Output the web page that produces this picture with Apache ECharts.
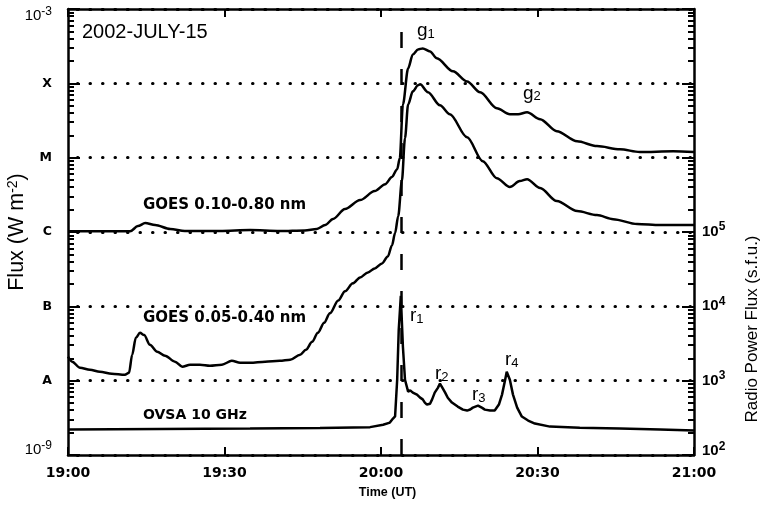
<!DOCTYPE html>
<html>
<head>
<meta charset="utf-8">
<title>2002-JULY-15 GOES / OVSA</title>
<script src="https://cdn.jsdelivr.net/npm/echarts@6/dist/echarts.min.js"></script>
<style>
  body { margin: 0; padding: 0; background: #fff; }
  #main { width: 761px; height: 505px; }
</style>
</head>
<body>
<div id="main"></div>
<script>
// time = minutes after 19:00 UT
var tickLabels = ['19:00', '19:30', '20:00', '20:30', '21:00'];
var flareClass = { '-8': 'A', '-7': 'B', '-6': 'C', '-5': 'M', '-4': 'X' };
var radioLabelMax = 1e5;
var markTime = 63.8;

// GOES 0.10-0.80 nm (W m-2)
var goesLongT = [0, 10, 11.9, 13.4, 14.8, 16.7, 19.6, 22.4, 29.1, 34.9,
  40.6, 45.4, 47.7, 49.3, 50.8, 53.1, 56, 58.8, 60.8, 62.1,
  63.1, 63.6, 64.2, 65.2, 66.1, 67.1, 68.0, 69.4, 70.7, 73.8,
  76.5, 79.0, 82.2, 84.7, 86.3, 88.0, 90.5, 93.7, 97.6, 101.4,
  105.8, 109.6, 116, 120];
var goesLongV = [1.02e-6, 1.02e-6, 1.02e-6, 1.2e-6, 1.32e-6, 1.24e-6, 1.1e-6, 1.03e-6, 1.03e-6, 1.06e-6,
  1.03e-6, 1.05e-6, 1.1e-6, 1.24e-6, 1.5e-6, 2.04e-6, 2.69e-6, 3.55e-6, 4.4e-6, 5.5e-6,
  7.0e-6, 9.8e-6, 5.2e-5, 1.59e-4, 2.45e-4, 2.86e-4, 2.95e-4, 2.69e-4, 2.17e-4, 1.45e-4,
  1.06e-4, 7.57e-5, 4.62e-5, 3.84e-5, 3.84e-5, 4.08e-5, 3.29e-5, 2.27e-5, 1.66e-5, 1.43e-5,
  1.30e-5, 1.19e-5, 1.22e-5, 1.19e-5];

// GOES 0.05-0.40 nm (W m-2)
var goesShortT = [0, 0.8, 2.3, 4.2, 6.1, 8.4, 10.9, 11.7, 12.3, 13.0,
  13.8, 14.6, 15.7, 17.1, 18.6, 20.5, 21.9, 23.4, 25.3, 27.2,
  29.5, 31.4, 33.0, 34.9, 37.8, 40.6, 42.6, 44.5, 45.6, 46.8,
  47.9, 49.1, 50.2, 51.8, 53.1, 54.6, 56.0, 57.5, 58.8, 60.2,
  61.3, 62.1, 62.7, 63.3, 64.0, 64.6, 65.2, 66.1, 67.1, 67.5,
  69.0, 71.3, 73.2, 76.5, 79.5, 82.2, 84.7, 86.6, 88.0, 90.5,
  93.7, 97.6, 101.4, 104.5, 109.1, 113.5, 120];
var goesShortV = [2.1e-8, 1.8e-8, 1.49e-8, 1.4e-8, 1.32e-8, 1.24e-8, 1.2e-8, 1.28e-8, 2.23e-8, 3.78e-8,
  4.4e-8, 4.1e-8, 3.04e-8, 2.45e-8, 2.17e-8, 1.8e-8, 1.54e-8, 1.64e-8, 1.64e-8, 1.59e-8,
  1.64e-8, 1.85e-8, 1.74e-8, 1.74e-8, 1.8e-8, 1.85e-8, 1.91e-8, 2.23e-8, 2.6e-8, 3.33e-8,
  4.4e-8, 6.0e-8, 8.05e-8, 1.2e-7, 1.59e-7, 2.04e-7, 2.45e-7, 2.86e-7, 3.24e-7, 3.78e-7,
  4.68e-7, 6.6e-7, 9.7e-7, 1.64e-6, 4.83e-6, 1.83e-5, 5.2e-5, 7.8e-5, 9.4e-5, 9.7e-5,
  7.6e-5, 5.07e-5, 3.84e-5, 1.88e-5, 8.97e-6, 5.3e-6, 4.02e-6, 4.84e-6, 5.14e-6, 3.9e-6,
  2.61e-6, 1.91e-6, 1.69e-6, 1.49e-6, 1.28e-6, 1.24e-6, 1.24e-6];

// OVSA 10 GHz (s.f.u.)
var radioT = [0, 17.6, 34.9, 48.3, 57.9, 60.4, 61.7, 62.3, 62.7, 63.1,
  63.4, 63.8, 64.2, 64.6, 65.2, 65.6, 66.1, 66.9, 67.5, 68.0,
  68.4, 68.8, 69.4, 69.8, 70.3, 70.9, 71.3, 71.7, 72.3, 72.8,
  73.6, 74.7, 75.7, 76.5, 77.1, 77.6, 78.6, 79.4, 79.9, 80.9,
  81.8, 82.6, 83.2, 83.8, 84.1, 84.7, 85.3, 86.1, 87.0, 88.2,
  89.5, 92.4, 98.1, 105.8, 113.5, 120];
var radioV = [220, 224, 227, 230, 237, 255, 273, 309, 330, 1030,
  4840, 13800, 2860, 1030, 711, 740, 690, 649, 591, 560,
  507, 477, 490, 560, 690, 800, 912, 820, 690, 590,
  507, 448, 408, 396, 410, 434, 462, 430, 408, 396,
  396, 477, 649, 1030, 1320, 1030, 649, 434, 329, 291,
  265, 241, 233, 227, 220, 213];

var black = '#000';

function zip(t, v) {
  return t.map(function (x, i) { return [x, v[i]]; });
}

var myChart = echarts.init(document.getElementById('main'));

var lineSeries = function (name, data, axis, smooth) {
  return {
    name: name,
    type: 'line',
    yAxisIndex: axis,
    data: data,
    showSymbol: false,
    smooth: smooth,
    smoothMonotone: 'x',
    silent: true,
    lineStyle: { color: black, width: 2.5 },
    z: 3
  };
};

var radio = lineSeries('OVSA 10 GHz', zip(radioT, radioV), 1, false);
radio.markLine = {
  silent: true,
  symbol: 'none',
  label: { show: false },
  lineStyle: { color: black, width: 2.5, type: [16, 21] },
  data: [{ xAxis: markTime }]
};

var xAxisBase = function (pos, labels) {
  return {
    type: 'value', min: 0, max: 120, interval: 30, position: pos,
    axisLine: { show: true, onZero: false, lineStyle: { color: black, width: 2.5 } },
    axisTick: { show: true, inside: true, length: 8, lineStyle: { color: black, width: 2 } },
    axisLabel: labels,
    splitLine: { show: false }
  };
};

var logTicks = {
  axisLine: { show: true, onZero: false, lineStyle: { color: black, width: 2.5 } },
  axisTick: { show: true, inside: true, length: 12, lineStyle: { color: black, width: 2 } },
  minorTick: { show: true, splitNumber: 9, length: 6, lineStyle: { color: black, width: 2 } }
};

var option = {
  animation: false,
  grid: { left: 68, right: 67, top: 9, bottom: 50 },
  xAxis: [
    xAxisBase('bottom', {
      color: black, fontFamily: 'DejaVu Sans', fontWeight: 'bold', fontSize: 14, margin: 11,
      formatter: function (v) { return tickLabels[Math.round(v / 30)]; }
    }),
    xAxisBase('top', { show: false })
  ],
  yAxis: [Object.assign({
    type: 'log', logBase: 10, min: 1e-9, max: 1e-3, position: 'left',
    splitLine: {
      show: true,
      lineStyle: { color: black, width: 3, type: [0.5, 12], cap: 'round', dashOffset: 3 }
    },
    axisLabel: {
      margin: 16,
      formatter: function (v) {
        var p = Math.round(Math.log10(v));
        if (flareClass[p]) return '{c|' + flareClass[p] + '}';
        if (p === -3) return '{bt|10}{et|' + p + '}';
        return '{bb|10}{eb|' + p + '}';
      },
      rich: {
        bt: { fontFamily: 'Liberation Sans', fontSize: 15, color: black, lineHeight: 28, verticalAlign: 'bottom' },
        et: { fontFamily: 'Liberation Sans', fontSize: 12, color: black, lineHeight: 12, verticalAlign: 'bottom', padding: [0, 0, 5, 0] },
        bb: { fontFamily: 'Liberation Sans', fontSize: 15, color: black, lineHeight: 31, verticalAlign: 'top', padding: [2.5, 0, 0, 0] },
        eb: { fontFamily: 'Liberation Sans', fontSize: 12, color: black, lineHeight: 12, verticalAlign: 'top' },
        c: { fontFamily: 'DejaVu Sans', fontWeight: 'bold', fontSize: 12.5, color: black }
      }
    }
  }, logTicks), Object.assign({
    type: 'log', logBase: 10, min: 1e2, max: 1e8, position: 'right',
    splitLine: { show: false },
    axisLabel: {
      margin: 8,
      formatter: function (v) {
        if (v > radioLabelMax * 1.01) return '';
        var p = Math.round(Math.log10(v));
        if (p === 2) return '{bb|10}{eb|' + p + '}';
        return '{b|10}{e|' + p + '}';
      },
      rich: {
        b: { fontFamily: 'Liberation Sans', fontWeight: 'bold', fontSize: 15, color: black, lineHeight: 22 },
        e: { fontFamily: 'Liberation Sans', fontWeight: 'bold', fontSize: 12, color: black, lineHeight: 12, verticalAlign: 'top' },
        bb: { fontFamily: 'Liberation Sans', fontWeight: 'bold', fontSize: 15, color: black, lineHeight: 29, verticalAlign: 'top', padding: [2.5, 0, 0, 0] },
        eb: { fontFamily: 'Liberation Sans', fontWeight: 'bold', fontSize: 12, color: black, lineHeight: 12, verticalAlign: 'top' }
      }
    }
  }, logTicks)],
  series: [
    lineSeries('GOES 0.10-0.80 nm', zip(goesLongT, goesLongV), 0, 0.3),
    lineSeries('GOES 0.05-0.40 nm', zip(goesShortT, goesShortV), 0, 0.3),
    radio
  ],
  graphic: [
    { type: 'text', x: 82, y: 32, style: { text: '2002-JULY-15', font: '20px "Liberation Sans"', fill: black, verticalAlign: 'middle' } },
    { type: 'text', x: 143, y: 205.5, style: { text: 'GOES 0.10-0.80 nm', font: 'bold 15px "DejaVu Sans"', fill: black, verticalAlign: 'middle' } },
    { type: 'text', x: 143, y: 318.5, style: { text: 'GOES 0.05-0.40 nm', font: 'bold 15px "DejaVu Sans"', fill: black, verticalAlign: 'middle' } },
    { type: 'text', x: 143, y: 415, style: { text: 'OVSA 10 GHz', font: 'bold 14px "DejaVu Sans"', fill: black, verticalAlign: 'middle' } },
    { type: 'text', x: 387.5, y: 493, style: { text: 'Time (UT)', font: 'bold 12.5px "Liberation Sans"', fill: black, align: 'center', verticalAlign: 'middle' } },
    {
      type: 'text', x: 17, y: 232, rotation: Math.PI / 2,
      style: {
        text: 'Flux (W m{s|-2})', font: '21.5px "Liberation Sans"', fill: black, align: 'center', verticalAlign: 'middle',
        rich: { s: { fontFamily: 'Liberation Sans', fontSize: 14, lineHeight: 12, verticalAlign: 'top', fill: black } }
      }
    },
    { type: 'text', x: 752, y: 329, rotation: Math.PI / 2, style: { text: 'Radio Power Flux (s.f.u.)', font: '17px "Liberation Sans"', fill: black, align: 'center', verticalAlign: 'middle' } },
    {
      type: 'text', x: 417, y: 30.5,
      style: { text: '{g|g}{n|1}', verticalAlign: 'middle',
        rich: { g: { fontFamily: 'Liberation Sans', fontSize: 19, lineHeight: 20, fill: black }, n: { fontFamily: 'Liberation Sans', fontSize: 13, lineHeight: 14, verticalAlign: 'bottom', fill: black } } }
    },
    {
      type: 'text', x: 523, y: 93.4,
      style: { text: '{g|g}{n|2}', verticalAlign: 'middle',
        rich: { g: { fontFamily: 'Liberation Sans', fontSize: 19, lineHeight: 20, fill: black }, n: { fontFamily: 'Liberation Sans', fontSize: 13, lineHeight: 14, verticalAlign: 'bottom', fill: black } } }
    },
    {
      type: 'text', x: 410, y: 315.5,
      style: { text: '{g|r}{n|1}', verticalAlign: 'middle',
        rich: { g: { fontFamily: 'Liberation Sans', fontSize: 19, lineHeight: 20, fill: black }, n: { fontFamily: 'Liberation Sans', fontSize: 13, lineHeight: 14, verticalAlign: 'bottom', fill: black } } }
    },
    {
      type: 'text', x: 435, y: 373.5,
      style: { text: '{g|r}{n|2}', verticalAlign: 'middle',
        rich: { g: { fontFamily: 'Liberation Sans', fontSize: 19, lineHeight: 20, fill: black }, n: { fontFamily: 'Liberation Sans', fontSize: 13, lineHeight: 14, verticalAlign: 'bottom', fill: black } } }
    },
    {
      type: 'text', x: 472, y: 395,
      style: { text: '{g|r}{n|3}', verticalAlign: 'middle',
        rich: { g: { fontFamily: 'Liberation Sans', fontSize: 19, lineHeight: 20, fill: black }, n: { fontFamily: 'Liberation Sans', fontSize: 13, lineHeight: 14, verticalAlign: 'bottom', fill: black } } }
    },
    {
      type: 'text', x: 505, y: 359.5,
      style: { text: '{g|r}{n|4}', verticalAlign: 'middle',
        rich: { g: { fontFamily: 'Liberation Sans', fontSize: 19, lineHeight: 20, fill: black }, n: { fontFamily: 'Liberation Sans', fontSize: 13, lineHeight: 14, verticalAlign: 'bottom', fill: black } } }
    }
  ]
};

myChart.setOption(option);
window.addEventListener('resize', function () {
  myChart.resize();
});
</script>
</body>
</html>
